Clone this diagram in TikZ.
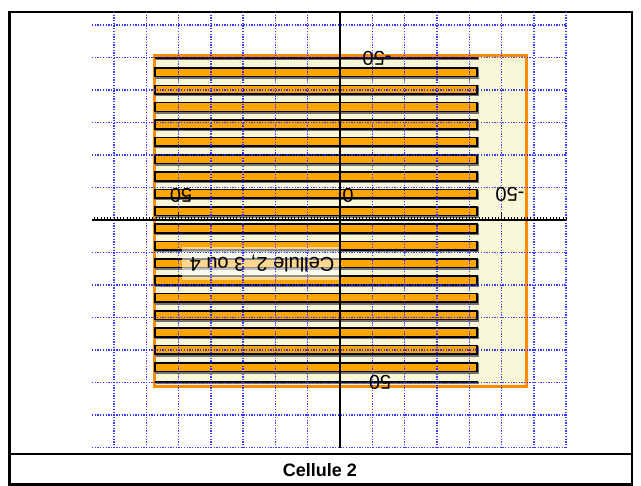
\documentclass[tikz,border=0pt]{standalone}
\usepackage{fontspec}
\setmainfont{Liberation Sans}
\definecolor{paleY}{HTML}{F8F8D8}
\definecolor{orangeB}{HTML}{FF8C00}
\definecolor{barO}{HTML}{FFA500}
\definecolor{gridB}{HTML}{2828FF}
\begin{document}
\begin{tikzpicture}[x=1pt,y=-1pt,
  gridl/.style={gridB,line width=1.4pt,dash pattern=on 1.3pt off 1.4pt,opacity=0.9},
  barbox/.style={fill=barO,draw=black,line width=1.6pt},
  barshadow/.style={draw=black!55,line width=2.2pt},
  axislbl/.style={rotate=180,inner sep=0pt,font=\fontsize{20}{20}\selectfont},
  frameline/.style={line width=2.5pt}]
\useasboundingbox (0,0) rectangle (641,486);
\fill[white] (0,0) rectangle (641,486);
% frame of the table
\draw[frameline] (9.5,12) rectangle (632,484.5);
\draw[frameline] (9.5,454) -- (632,454);
% plot area background
\fill[white] (92,12.6) rectangle (566,448);
% cell outline
\draw[orangeB,line width=3pt,fill=paleY] (154.5,55.5) rectangle (526.5,386.5);
% fingers
\foreach \k in {0,...,17}
  \draw[barshadow] (156,{69.2+17.35*\k}) rectangle (478.2,{77.9+17.35*\k});
\foreach \k in {0,...,17}
  \draw[barbox] (155,{68+17.35*\k}) rectangle (477,{76.7+17.35*\k});
\draw[black!55,line width=2.2pt] (156,59) -- (479,59);
\draw[black!55,line width=2.2pt] (156,383) -- (479,383);
\draw[line width=2pt] (155,57.7) -- (478,57.7);
\draw[line width=2pt] (155,381.7) -- (478,381.7);
% label
\fill[white,opacity=0.55] (182,247) rectangle (340,280);
\node[axislbl] (cell) at (262,263) {Cellule 2, 3 ou 4};
% grid
\foreach \k in {-7,...,7}
  \draw[gridl] ({340+32.3*\k},12) -- ({340+32.3*\k},448);
\foreach \k in {-6,...,7}
  \draw[gridl] (92,{220+32.5*\k}) -- (566,{220+32.5*\k});
% axes
\draw[line width=1.3pt] (92,220) -- (566,220);
\draw[line width=1.3pt] (340,12) -- (340,448);
\foreach \k in {-76,...,70}
  \draw[line width=0.6pt] ({340+3.23*\k},217) -- ({340+3.23*\k},220);
\draw[line width=1.2pt] (178.5,212) -- (178.5,220);
\draw[line width=1.2pt] (501.5,212) -- (501.5,220);
% axis labels
\node[axislbl] (l1) at (181,195) {50};
\node[axislbl] (l2) at (348,195) {0};
\node[axislbl] (l3) at (510,194) {-50};
\node[axislbl] (l4) at (377,58) {-50};
\node[axislbl] (l5) at (380,382) {50};
% caption
\node[font=\fontsize{18}{18}\selectfont\bfseries] (cap) at (320,470) {Cellule 2};
\end{tikzpicture}
\end{document}
